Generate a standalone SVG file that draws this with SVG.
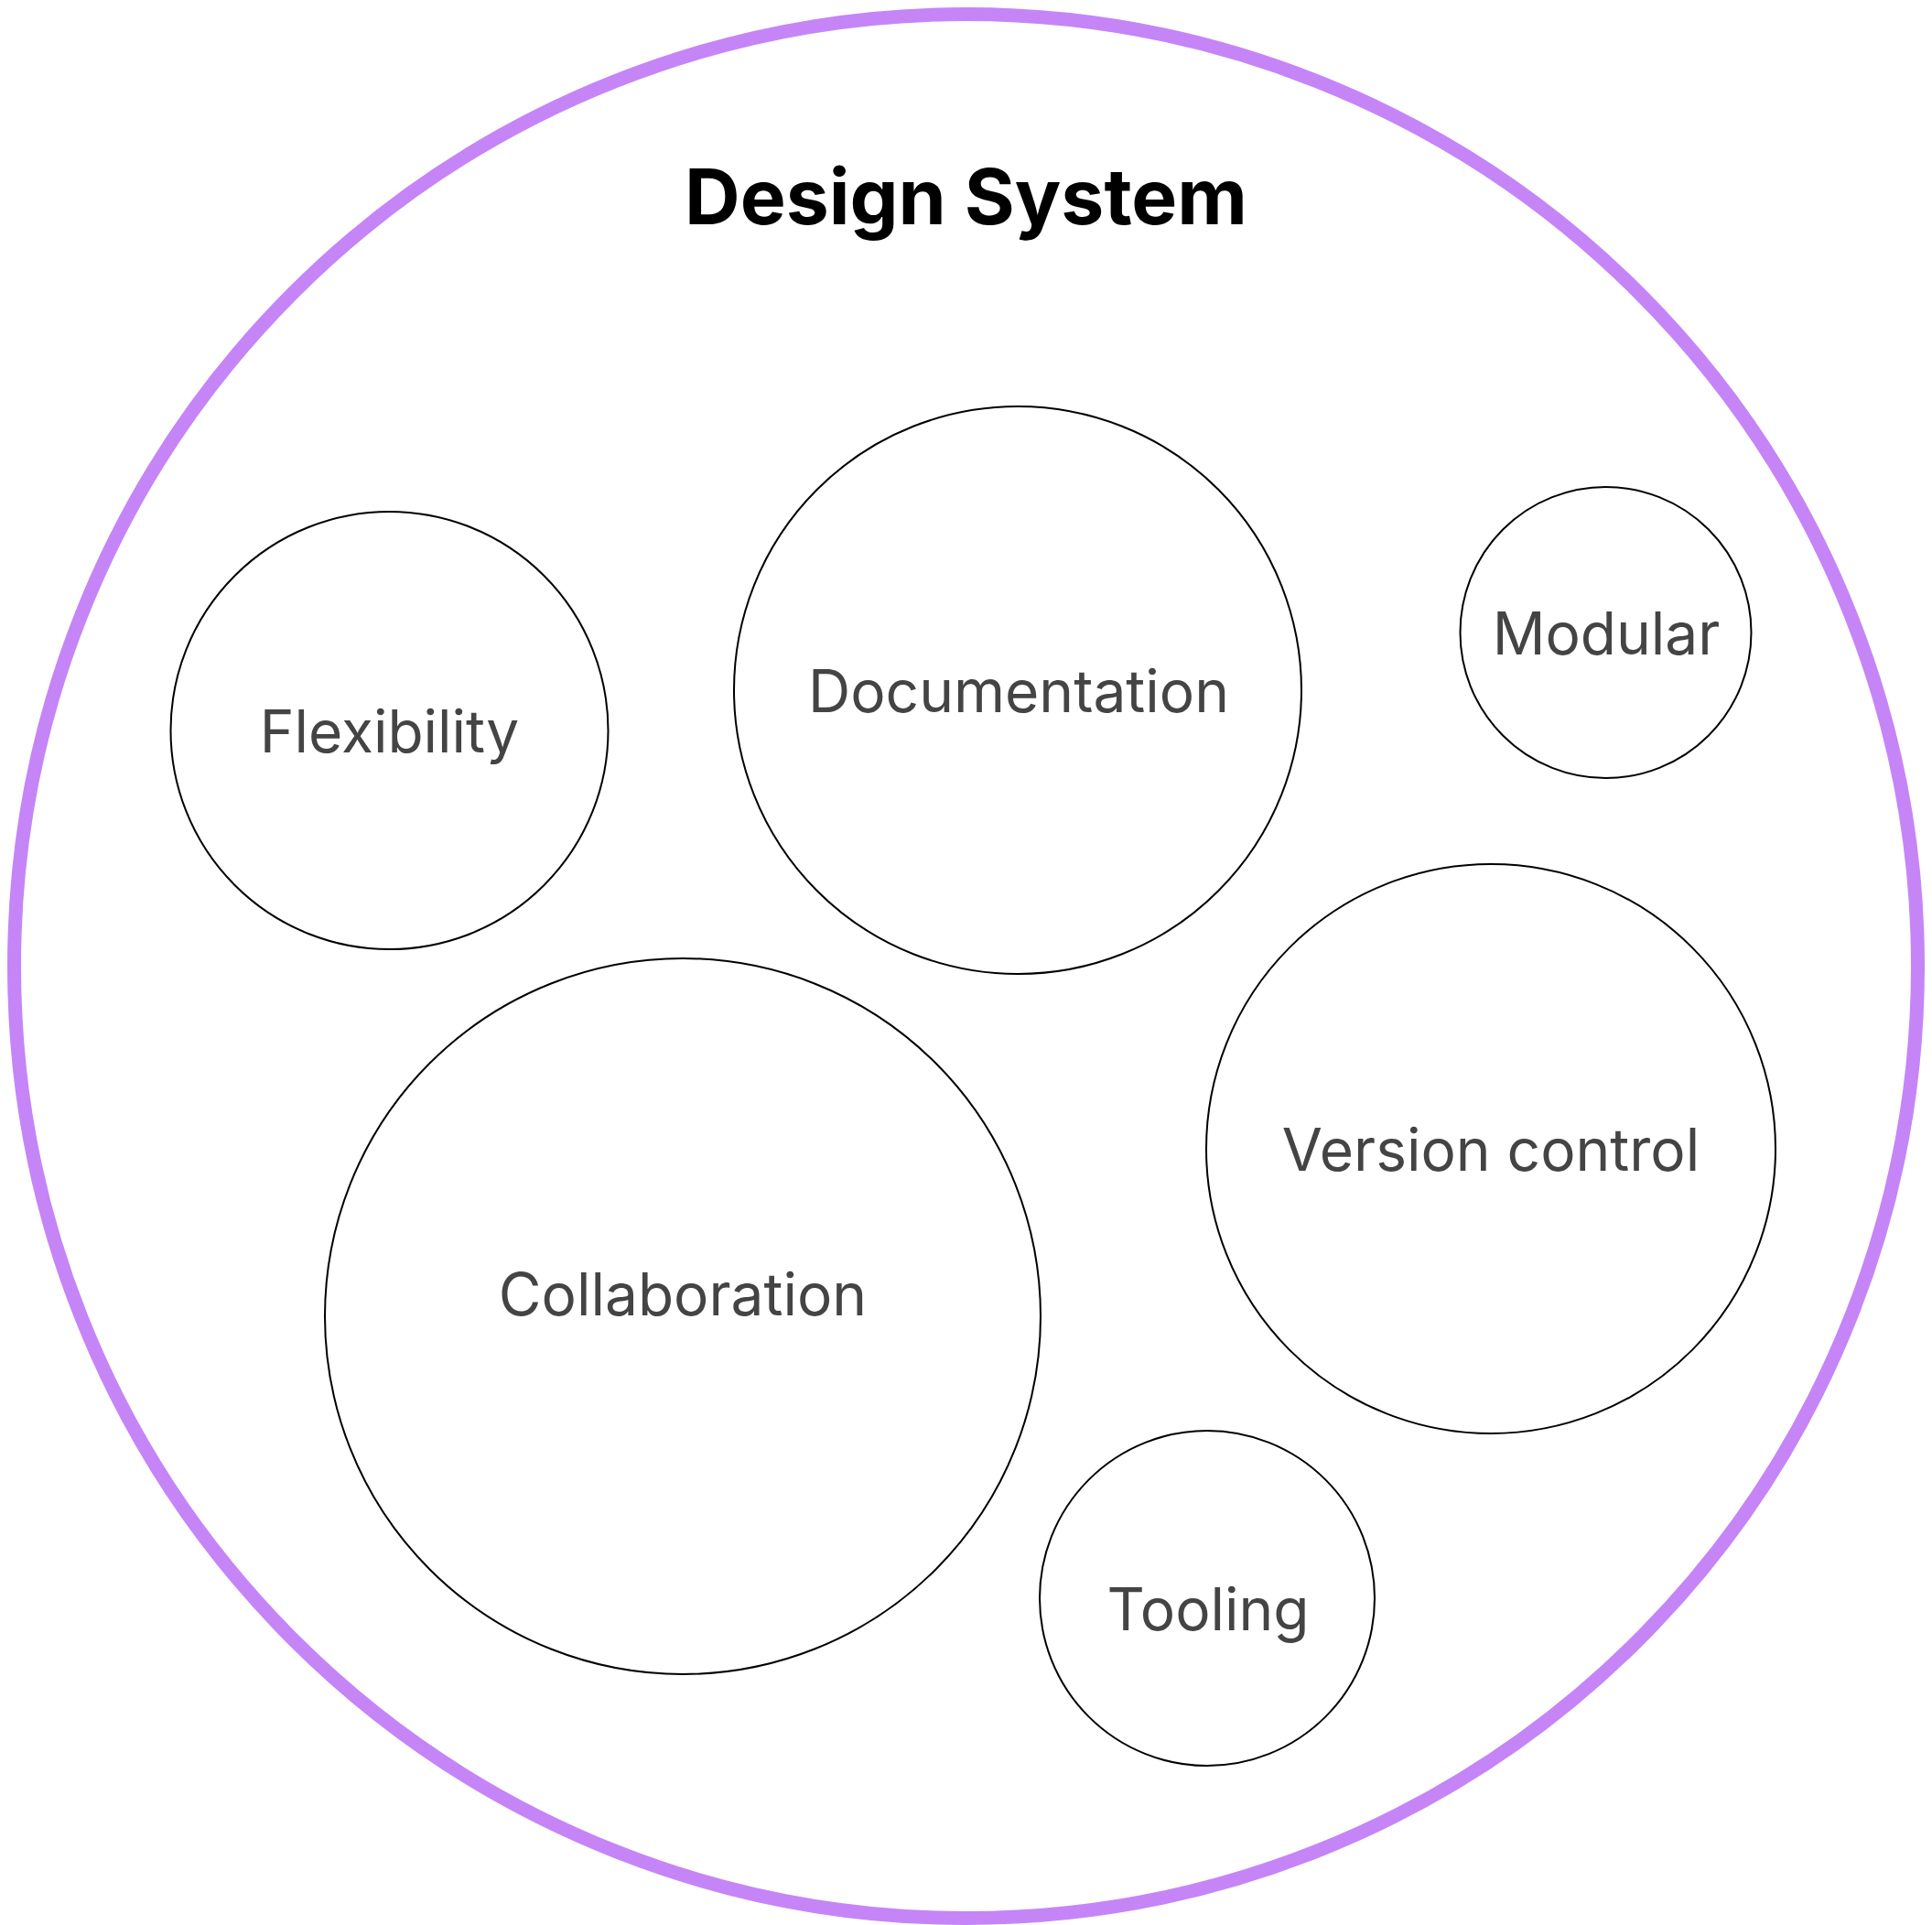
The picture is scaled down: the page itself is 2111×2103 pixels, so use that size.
<svg xmlns="http://www.w3.org/2000/svg" width="2111" height="2103" viewBox="0 0 2111 2103">
<style>
.bub{fill:#ffffff;stroke:#000000;stroke-width:2}
.lbl{font-family:Inter,"Noto Sans","Liberation Sans",sans-serif;font-size:64px;fill:#444444;text-anchor:middle}
.title{font-family:Inter,"Noto Sans","Liberation Sans",sans-serif;font-size:84px;font-weight:700;fill:#000000;text-anchor:middle}
</style>
<rect width="2111" height="2103" fill="#ffffff"/>
<g id="design-system">
<circle cx="1055.5" cy="1055.5" r="1040" fill="#ffffff" stroke="#c585f7" stroke-width="15"/>
<text class="title" x="1055.5" y="245">Design System</text>
</g>
<g id="flexibility"><circle class="bub" cx="425.5" cy="798" r="239"/><text class="lbl" x="425.5" y="822">Flexibility</text></g>
<g id="documentation"><circle class="bub" cx="1112" cy="754" r="310"/><text class="lbl" x="1113" y="778">Documentation</text></g>
<g id="modular"><circle class="bub" cx="1754.5" cy="691" r="159"/><text class="lbl" x="1755" y="715">Modular</text></g>
<g id="version-control"><circle class="bub" cx="1629" cy="1255" r="311"/><text class="lbl" x="1629" y="1279">Version control</text></g>
<g id="collaboration"><circle class="bub" cx="746" cy="1438" r="391"/><text class="lbl" x="746" y="1437">Collaboration</text></g>
<g id="tooling"><circle class="bub" cx="1319" cy="1746" r="183"/><text class="lbl" x="1320" y="1781">Tooling</text></g>
<g id="connectors"/>
</svg>
